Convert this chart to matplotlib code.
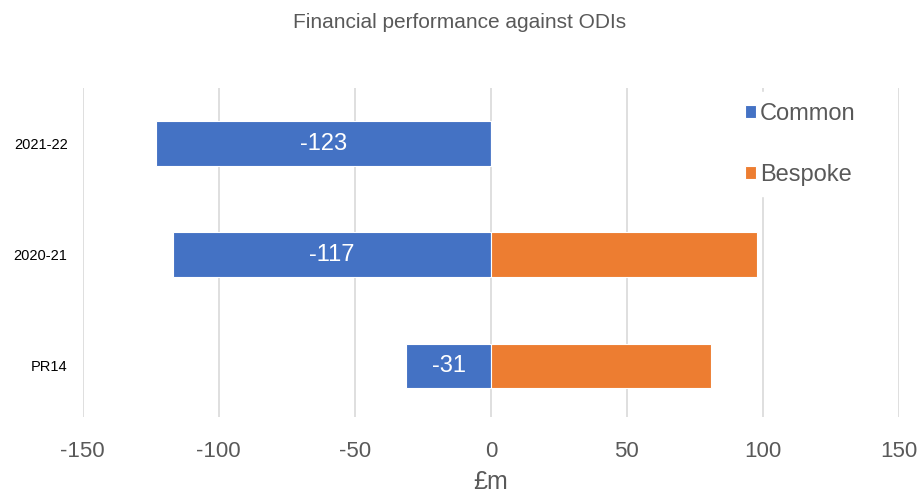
import matplotlib
matplotlib.use("Agg")
import matplotlib.pyplot as plt

plt.rcParams['font.family'] = ['Liberation Sans', 'DejaVu Sans']

# data
periods = ["PR14", "2020-21", "2021-22"]
common = [-31, -117, -123]
bespoke = [81, 98, 0]
x_ticks = [-150, -100, -50, 0, 50, 100, 150]

blue = "#4472C4"
orange = "#ED7D31"
grey_text = "#595959"

fig = plt.figure(figsize=(9.2, 5), dpi=100)
ax = fig.add_axes([0.090, 0.166, 0.887, 0.658])

ypos = list(range(len(periods)))
ax.barh(ypos, common, height=0.4, color=blue, edgecolor="white", linewidth=0.8, label="Common", zorder=3)
ax.barh(ypos, bespoke, height=0.4, color=orange, edgecolor="white", linewidth=0.8, label="Bespoke", zorder=3)

# labels inside the common bars
for y, v in zip(ypos, common):
    ax.text(v / 2, y, str(v), ha="center", va="center", color="white", fontsize=17, zorder=4)

ax.set_xlim(-150, 150)
ax.set_ylim(-0.46, 2.5)
ax.set_xticks(x_ticks)
ax.set_xticklabels([str(t) for t in x_ticks], fontsize=16, color=grey_text)
ax.set_yticks(ypos)
ax.set_yticklabels(periods, fontsize=10.5, color="black")
ax.tick_params(axis="both", length=0)
ax.tick_params(axis="x", pad=17)
ax.tick_params(axis="y", pad=11)

ax.grid(axis="x", color="#D9D9D9", linewidth=1.2, zorder=0)
for side in ["top", "right", "bottom", "left"]:
    ax.spines[side].set_visible(False)

ax.set_xlabel("£m", fontsize=18, color=grey_text, labelpad=6)

fig.text(0.5, 0.956, "Financial performance against ODIs", ha="center", va="center",
         fontsize=15, color=grey_text)

leg = ax.legend(loc="upper left", bbox_to_anchor=(0.798, 0.987), frameon=True, fontsize=17,
                handlelength=0.5, handleheight=0.5, handletextpad=0.15,
                labelspacing=1.65, borderpad=0.45, borderaxespad=0.0)
leg.get_frame().set_facecolor("white")
leg.get_frame().set_edgecolor("white")
leg.get_frame().set_alpha(1)
for t in leg.get_texts():
    t.set_color(grey_text)

fig.savefig("out.png", dpi=100)
